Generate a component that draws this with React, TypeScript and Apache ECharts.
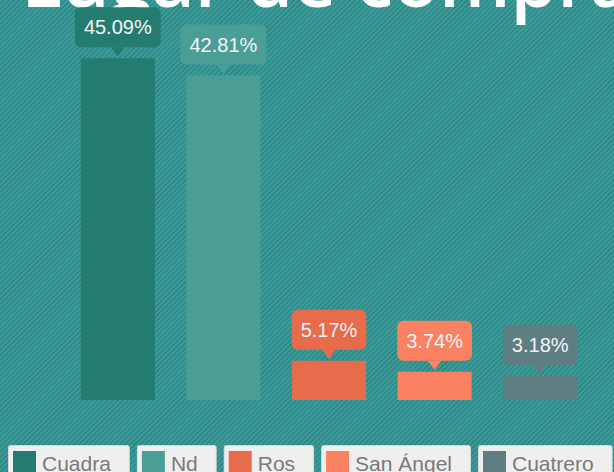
import React, { useEffect, useRef } from "react";
import * as echarts from "echarts";

const categories = ["Cuadra", "Nd", "Ros", "San Ángel", "Cuatrero"];
const values = [45.09, 42.81, 5.17, 3.74, 3.18];
const colors = ["#247c70", "#4b9e95", "#e66c4b", "#fa8262", "#5f7e81"];
const titleText = "Lugar de compra";

export default function App() {
  const ref = useRef<HTMLDivElement>(null);
  useEffect(() => {
    document.body.style.margin = "0";
    if (!ref.current) return;
    const chart = echarts.init(ref.current, null, { renderer: "svg" });

    const titleFont = '600 75px "Open Sans"';
    const cv = document.createElement("canvas");
    const ctx = cv.getContext("2d");
    let prefixW = 300;
    if (ctx) {
      ctx.font = titleFont;
      prefixW = ctx.measureText("Lugar de ").width;
    }

    const rich: any = {
      t: { fontSize: 21, color: "#7a7a7a", fontFamily: "Liberation Sans", padding: [0, 0, 0, 6], lineHeight: 24 },
    };
    colors.forEach((c, i) => {
      rich["i" + i] = { width: 23, height: 24, backgroundColor: c };
    });

    const series: any[] = categories.map((name, i) => ({
      name,
      type: "bar",
      barWidth: 74,
      barGap: "-100%",
      itemStyle: { color: colors[i] },
      data: categories.map((_, j) => (j === i ? values[i] : "-")),
      label: {
        show: true,
        position: "top",
        distance: 11,
        formatter: (p: any) => p.value + "%",
        backgroundColor: colors[i],
        borderRadius: 6,
        padding: [9, 9, 9, 9],
        fontSize: 20,
        lineHeight: 22,
        fontFamily: "Liberation Sans",
        color: "#f4f4f4",
      },
      markPoint: {
        silent: true,
        symbol: "triangle",
        symbolRotate: 180,
        symbolSize: [14, 9],
        symbolOffset: [0, -6.5],
        label: { show: false },
        itemStyle: { color: colors[i] },
        data: [{ coord: [i, values[i]] }],
      },
    }));

    chart.setOption({
      animation: false,
      backgroundColor: "transparent",
      grid: { left: 65, right: 21, top: 21, bottom: 72 },
      xAxis: {
        type: "category",
        data: categories,
        show: false,
      },
      yAxis: {
        type: "value",
        min: 0,
        max: 50,
        show: false,
        splitLine: { show: false },
      },
      legend: {
        data: categories,
        left: -1,
        top: 440,
        width: 900,
        itemGap: 3,
        itemWidth: 0,
        itemHeight: 0,
        icon: "rect",
        selectedMode: false,
        formatter: (name: string) => `{i${categories.indexOf(name)}|}{t|${name}}`,
        textStyle: {
          backgroundColor: "#efefef",
          borderColor: "#d6d6d6",
          borderWidth: 1,
          borderRadius: 2,
          padding: [5, 18, 5, 4],
          rich,
        },
      },
      graphic: [
        {
          type: "text",
          z: -1,
          x: 352 - prefixW + 4,
          y: -22,
          silent: true,
          style: {
            text: titleText,
            font: titleFont,
            fill: "#ffffff",
            textAlign: "left",
            textVerticalAlign: "middle",
          },
        },
      ],
      series,
    });
    return () => chart.dispose();
  }, []);

  return (
    <div
      style={{
        position: "fixed",
        left: 0,
        top: 0,
        width: 614,
        height: 472,
        backgroundColor: "#389896",
        backgroundImage:
          "repeating-linear-gradient(135deg, #3a9a98 0px, #3a9a98 2.3px, #2c8180 2.6px, #2c8180 3.3px, #3a9a98 3.6px)",
      }}
    >
      <div ref={ref} style={{ width: 614, height: 472 }} />
    </div>
  );
}
